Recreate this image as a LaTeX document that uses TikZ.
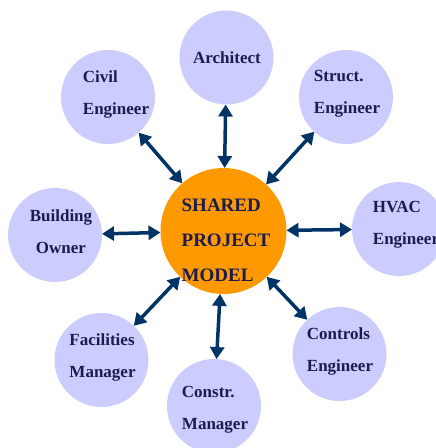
\documentclass[tikz,border=0pt]{standalone}
\usepackage{fontspec}
\setmainfont{Liberation Serif}
\usetikzlibrary{arrows.meta}

\definecolor{lavender}{HTML}{CCCCFF}
\definecolor{amber}{HTML}{FF9900}
\definecolor{navy}{HTML}{003366}
\definecolor{ink}{HTML}{1C1C4E}

\tikzset{
  party/.style={circle, fill=lavender, minimum size=94pt, inner sep=0pt, outer sep=0pt},
  role/.style={text=ink, font=\fontsize{17}{32}\selectfont\bfseries, align=left},
  hub/.style={circle, fill=amber, minimum size=126pt, inner sep=0pt, outer sep=0pt},
  link/.style={{Triangle[length=12pt,width=14pt]}-{Triangle[length=12pt,width=14pt]}, line width=3.5pt, navy}
}

\begin{document}
\begin{tikzpicture}[x=1pt, y=-1pt]
\useasboundingbox (0,0) rectangle (436,448);

% the shared model in the middle
\node [hub] (model) at (223.5,231) {};
\node [role, font=\fontsize{19}{35}\selectfont\bfseries] (modeltext) at (226,240) {SHARED\\PROJECT\\MODEL};

% the parties round it
\node [party] (arch) at (226.5,57.5) {};
\node [party] (civil) at (108,97) {};
\node [party] (struct) at (346,97) {};
\node [party] (owner) at (55,235) {};
\node [party] (hvac) at (399,229) {};
\node [party] (fac) at (101.5,360) {};
\node [party] (ctrl) at (339.5,354) {};
\node [party] (constr) at (214,406) {};

\node [role] (archtext) at (227,58) {Architect};
\node [role] (civiltext) at (116,94) {Civil\\Engineer};
\node [role] (structtext) at (347,94) {Struct.\\Engineer};
\node [role, align=center] (ownertext) at (61,232) {Building\\Owner};
\node [role] (hvactext) at (406,225) {HVAC\\Engineer};
\node [role] (factext) at (102.5,357) {Facilities\\Manager};
\node [role] (ctrltext) at (340,351) {Controls\\Engineer};
\node [role] (constrtext) at (215,410) {Constr.\\Manager};

% two-way links
\draw [link] (arch) -- (model);
\draw [link] (civil) -- (model);
\draw [link] (struct) -- (model);
\draw [link] (owner) -- (model);
\draw [link] (hvac) -- (model);
\draw [link] (fac) -- (model);
\draw [link] (ctrl) -- (model);
\draw [link] (constr) -- (model);

\end{tikzpicture}
\end{document}
